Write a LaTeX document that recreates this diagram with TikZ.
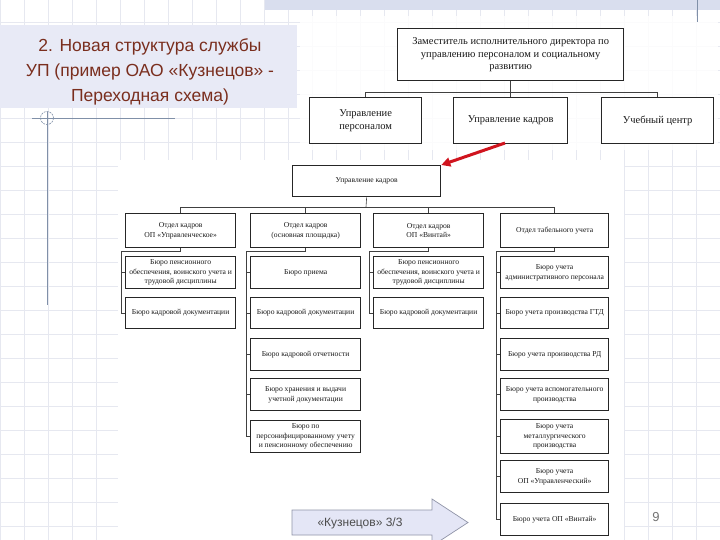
\documentclass[tikz,border=0pt]{standalone}
\usepackage{fontspec}
\setmainfont{Liberation Serif}
\newfontfamily\sansf{Liberation Sans}
\usetikzlibrary{arrows.meta}
\definecolor{gridc}{HTML}{E6E8F0}
\definecolor{titlefill}{HTML}{E8EAF6}
\definecolor{titletext}{HTML}{7A2E1E}
\definecolor{bandc}{HTML}{D9DEEE}
\definecolor{decoc}{HTML}{8090A8}
\definecolor{arrred}{HTML}{D0141E}
\definecolor{blockfill}{HTML}{E4E6F6}
\definecolor{blockdraw}{HTML}{9094A8}
\tikzset{
  orgbox/.style={draw=black!85, line width=1.3pt, fill=white,
    align=center, inner sep=1pt, anchor=north west, text=black!90},
  topbox/.style={orgbox, font=\fontsize{10.5}{12.5}\selectfont},
  lowbox/.style={orgbox, minimum width=110, minimum height=32, font=\fontsize{7.6}{9.4}\selectfont},
  headbox/.style={lowbox, minimum height=34},
  wire/.style={draw=black!75, line width=0.6pt},
  deco/.style={draw=decoc, line width=0.8pt}
}
\begin{document}
\begin{tikzpicture}[x=1pt,y=-1pt]
\useasboundingbox (0,0) rectangle (720,540);
\clip (0,0) rectangle (720,540);
\fill[white] (0,0) rectangle (720,540);
% background grid
\foreach \i in {0,...,30} \draw[gridc, line width=0.6pt] (24*\i,0) -- (24*\i,540);
\foreach \j in {0,...,23} \draw[gridc, line width=0.6pt] (0,{-2+24*\j}) -- (720,{-2+24*\j});
% scanned areas (white)
\fill[white, opacity=0.85] (300,16) rectangle (718,150);
\fill[white] (118,160) rectangle (624,540);
% top band
\fill[bandc] (265,0) rectangle (720,10);
\draw[decoc, line width=0.8pt] (697,0) -- (697,22);
% title
\fill[titlefill] (0,25) rectangle (297,108);
\node[font=\sansf\fontsize{17.5}{25}\selectfont, text=titletext, align=center] (title) at (150,72)
  {2. Новая структура службы\\УП (пример ОАО «Кузнецов» -\\Переходная схема)};
% left decoration
\draw[deco] (32,118) -- (175,118);
\draw[deco] (47,112) -- (47,305);
\draw[decoc, line width=0.6pt, dash pattern=on 2pt off 1pt] (47,118) circle (6.5);

% top diagram
\node[topbox, minimum width=226, minimum height=52] (top) at (397,28)
  {Заместитель исполнительного директора по\\управлению персоналом и социальному\\развитию};
\node[topbox, minimum width=112, minimum height=46] (t1) at (309,97) {Управление\\персоналом};
\node[topbox, minimum width=114, minimum height=46] (t2) at (453,97) {Управление кадров};
\node[topbox, minimum width=112, minimum height=46] (t3) at (601,97) {Учебный центр};
\draw[wire] (top.south) -- (t2.north);
\draw[wire] (t1.north) -- ++(0,-5) -| (t3.north);

% lower diagram
\node[lowbox, minimum width=148, minimum height=31] (uk) at (292,165) {Управление кадров};
\coordinate (hbus) at (366,207);
\node[headbox] (c1h) at (125,213) {Отдел кадров\\ОП «Управленческое»};
\node[headbox] (c2h) at (250,213) {Отдел кадров\\(основная площадка)};
\node[headbox] (c3h) at (373,213) {Отдел кадров\\ОП «Винтай»};
\node[headbox, minimum width=108] (c4h) at (500,213) {Отдел табельного учета};
\draw[wire] (uk.south) -- (hbus);
\draw[wire] (c1h.north) -- (c1h.north |- hbus) -- (c4h.north |- hbus) -- (c4h.north);
\draw[wire] (c2h.north) -- (c2h.north |- hbus);
\draw[wire] (c3h.north) -- (c3h.north |- hbus);

% column 1
\node[lowbox] (c1a) at (125,256) {Бюро пенсионного\\обеспечения, воинского учета и\\трудовой дисциплины};
\node[lowbox, minimum height=31] (c1b) at (125,297) {Бюро кадровой документации};
\coordinate (c1bus) at (121,251);
\draw[wire] (c1h.south) |- (c1bus) |- (c1b.west);
\draw[wire] (c1bus |- c1a.west) -- (c1a.west);

% column 2
\node[lowbox] (c2a) at (250,256) {Бюро приема};
\node[lowbox, minimum height=31] (c2b) at (250,297) {Бюро кадровой документации};
\node[lowbox] (c2c) at (250,338) {Бюро кадровой отчетности};
\node[lowbox] (c2d) at (250,378) {Бюро хранения и выдачи\\учетной документации};
\node[lowbox] (c2e) at (250,420) {Бюро по\\персонифицированному учету\\и пенсионному обеспечению};
\coordinate (c2bus) at (246,251);
\draw[wire] (c2h.south) |- (c2bus) |- (c2e.west);
\foreach \n in {c2a,c2b,c2c,c2d} \draw[wire] (c2bus |- \n.west) -- (\n.west);

% column 3
\node[lowbox] (c3a) at (373,256) {Бюро пенсионного\\обеспечения, воинского учета и\\трудовой дисциплины};
\node[lowbox, minimum height=31] (c3b) at (373,297) {Бюро кадровой документации};
\coordinate (c3bus) at (369,251);
\draw[wire] (c3h.south) |- (c3bus) |- (c3b.west);
\draw[wire] (c3bus |- c3a.west) -- (c3a.west);

% column 4
\node[lowbox, minimum width=108] (c4a) at (500,256) {Бюро учета\\административного персонала};
\node[lowbox, minimum width=108, minimum height=31] (c4b) at (500,297) {Бюро учета производства ГТД};
\node[lowbox, minimum width=108] (c4c) at (500,338) {Бюро учета производства РД};
\node[lowbox, minimum width=108] (c4d) at (500,378) {Бюро учета вспомогательного\\производства};
\node[lowbox, minimum width=108, minimum height=34] (c4e) at (500,419) {Бюро учета\\металлургического\\производства};
\node[lowbox, minimum width=108] (c4f) at (500,460) {Бюро учета\\ОП «Управленческий»};
\node[lowbox, minimum width=108] (c4g) at (500,503) {Бюро учета ОП «Винтай»};
\coordinate (c4bus) at (496,251);
\draw[wire] (c4h.south) |- (c4bus) |- (c4g.west);
\foreach \n in {c4a,c4b,c4c,c4d,c4e,c4f} \draw[wire] (c4bus |- \n.west) -- (\n.west);

% red arrow
\coordinate (rstart) at (505,143);
\draw[arrred, line width=3pt, -{Triangle[length=9pt,width=9pt]}] (rstart) -- (uk.north east);

% bottom block arrow
\draw[fill=blockfill, draw=blockdraw, line width=0.7pt]
  (292,510) -- (432,510) -- (432,499) -- (468,522.5) -- (432,546) -- (432,535) -- (292,535) -- cycle;
\node[font=\sansf\fontsize{12}{14}\selectfont, text=black!70] (kuz) at (360,523) {«Кузнецов» 3/3};
% page number
\node[font=\sansf\fontsize{13}{15}\selectfont, text=black!55] (pg) at (656,517) {9};
\end{tikzpicture}
\end{document}
